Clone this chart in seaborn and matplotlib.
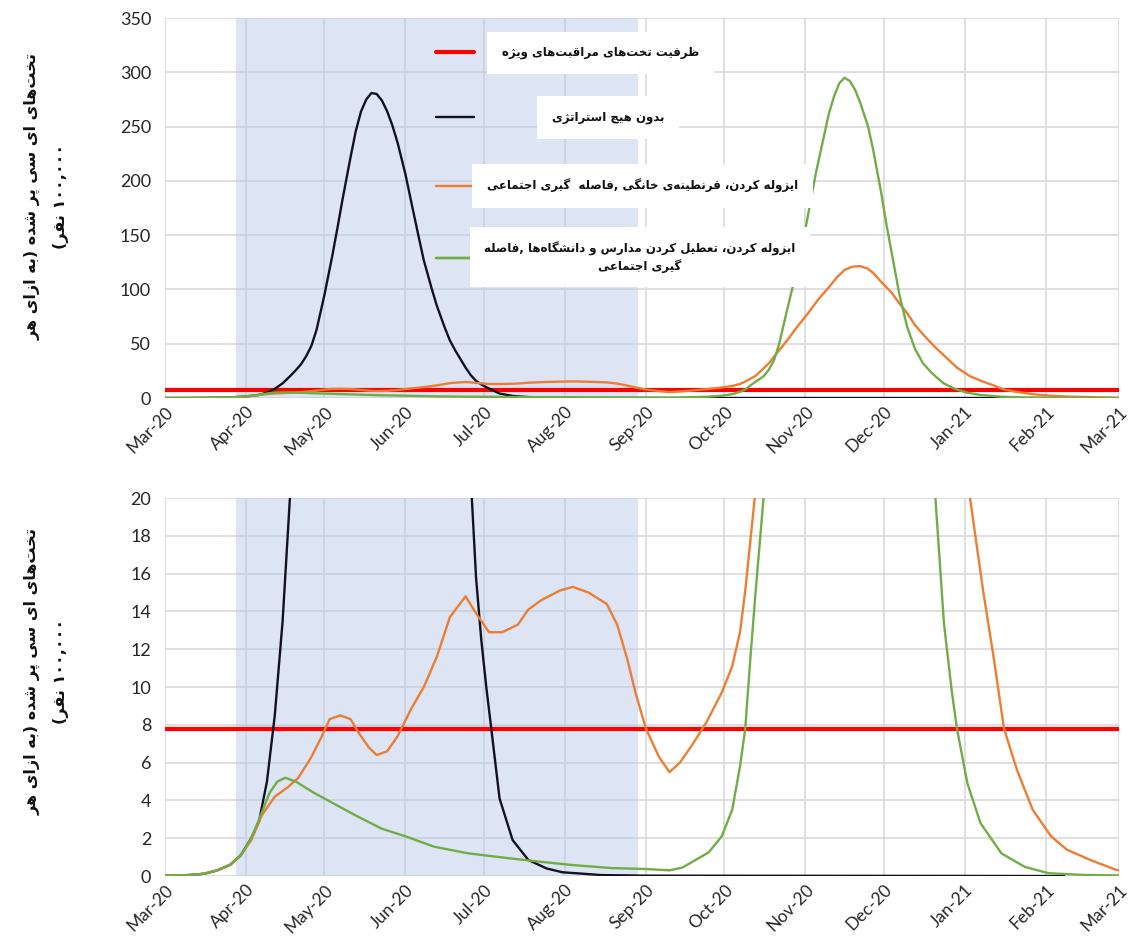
import re
import numpy as np
import pandas as pd
import matplotlib
matplotlib.use("Agg")
import matplotlib.pyplot as plt
import matplotlib.dates as mdates
from matplotlib.lines import Line2D
import seaborn as sns

# ---------------- data ----------------
ICU_CAPACITY = 7.8
SHADE_START, SHADE_END = "2020-03-28", "2020-08-29"

black_dates = ["2020-03-01", "2020-03-10", "2020-03-16", "2020-03-21", "2020-03-26", "2020-03-30",
               "2020-04-03", "2020-04-06", "2020-04-09", "2020-04-12", "2020-04-15", "2020-04-18",
               "2020-04-20", "2020-04-22", "2020-04-24", "2020-04-26", "2020-04-28", "2020-05-01",
               "2020-05-04", "2020-05-06", "2020-05-08", "2020-05-11", "2020-05-13", "2020-05-15",
               "2020-05-17", "2020-05-19", "2020-05-21", "2020-05-23", "2020-05-25", "2020-05-27",
               "2020-05-29", "2020-06-01", "2020-06-03", "2020-06-06", "2020-06-08", "2020-06-11",
               "2020-06-13", "2020-06-16", "2020-06-18", "2020-06-20", "2020-06-22", "2020-06-24",
               "2020-06-26", "2020-06-28", "2020-06-30", "2020-07-02", "2020-07-04", "2020-07-07",
               "2020-07-12", "2020-07-18", "2020-07-25", "2020-07-31", "2020-08-15", "2020-09-01",
               "2021-02-08"]
black_vals = [0.02, 0.05, 0.12, 0.3, 0.6, 1.1,
              2.0, 2.9, 5.0, 8.5, 13.5, 20.5,
              25.5, 31, 38.5, 48, 63, 95,
              131, 157, 184, 222, 246, 264,
              275, 281, 280, 274, 264, 251,
              235, 206, 183, 149, 127, 101,
              85, 65, 53, 44, 36, 28,
              21, 15.8, 12.5, 9.9, 7.6, 4.1,
              1.9, 0.85, 0.4, 0.2, 0.05, 0.02,
              0.0]

orange_dates = ["2020-03-01", "2020-03-10", "2020-03-16", "2020-03-21", "2020-03-26", "2020-03-30",
                "2020-04-03", "2020-04-07", "2020-04-12", "2020-04-17", "2020-04-21", "2020-04-26",
                "2020-04-30", "2020-05-03", "2020-05-07", "2020-05-11", "2020-05-14", "2020-05-18",
                "2020-05-21", "2020-05-25", "2020-05-29", "2020-06-03", "2020-06-08", "2020-06-13",
                "2020-06-18", "2020-06-24", "2020-06-28", "2020-07-03", "2020-07-08", "2020-07-14",
                "2020-07-18", "2020-07-23", "2020-07-30", "2020-08-04", "2020-08-10", "2020-08-17",
                "2020-08-21", "2020-08-25", "2020-08-28", "2020-09-01", "2020-09-06", "2020-09-10",
                "2020-09-14", "2020-09-19", "2020-09-24", "2020-09-30", "2020-10-04", "2020-10-07",
                "2020-10-09", "2020-10-11", "2020-10-13", "2020-10-15", "2020-10-18", "2020-10-21",
                "2020-10-25", "2020-10-29", "2020-11-02", "2020-11-06", "2020-11-10", "2020-11-13",
                "2020-11-16", "2020-11-19", "2020-11-22", "2020-11-25", "2020-11-27", "2020-11-30",
                "2020-12-04", "2020-12-07", "2020-12-10", "2020-12-13", "2020-12-17", "2020-12-21",
                "2020-12-25", "2020-12-29", "2021-01-03", "2021-01-08", "2021-01-12", "2021-01-16",
                "2021-01-21", "2021-01-27", "2021-02-03", "2021-02-09", "2021-02-18", "2021-02-28",
                "2021-03-01"]
orange_vals = [0.02, 0.05, 0.12, 0.3, 0.6, 1.1,
               1.9, 3.2, 4.2, 4.7, 5.2, 6.3,
               7.4, 8.3, 8.5, 8.3, 7.6, 6.8,
               6.4, 6.6, 7.4, 8.8, 10.0, 11.6,
               13.7, 14.8, 13.9, 12.9, 12.9, 13.3,
               14.1, 14.6, 15.1, 15.3, 15.0, 14.4,
               13.3, 11.4, 9.7, 7.8, 6.3, 5.5,
               6.0, 7.0, 8.1, 9.7, 11.1, 12.9,
               15.1, 17.8, 20.5, 25, 32, 41,
               53, 66, 78, 91, 102, 111,
               118, 121, 121.5, 119, 115, 107,
               97, 87, 78, 67, 56, 46,
               37, 28, 20, 15.1, 11.6, 7.8,
               5.6, 3.5, 2.1, 1.4, 0.85, 0.32,
               0.3]

green_dates = ["2020-03-01", "2020-03-10", "2020-03-16", "2020-03-21", "2020-03-26", "2020-03-30",
               "2020-04-03", "2020-04-06", "2020-04-10", "2020-04-13", "2020-04-16", "2020-04-20",
               "2020-04-27", "2020-05-05", "2020-05-13", "2020-05-23", "2020-06-01", "2020-06-12",
               "2020-06-25", "2020-07-10", "2020-07-23", "2020-08-04", "2020-08-19", "2020-09-01",
               "2020-09-10", "2020-09-15", "2020-09-20", "2020-09-25", "2020-09-30", "2020-10-04",
               "2020-10-07", "2020-10-09", "2020-10-11", "2020-10-13", "2020-10-16", "2020-10-18",
               "2020-10-20", "2020-10-22", "2020-10-25", "2020-10-28", "2020-10-31", "2020-11-03",
               "2020-11-05", "2020-11-08", "2020-11-10", "2020-11-12", "2020-11-14", "2020-11-16",
               "2020-11-18", "2020-11-20", "2020-11-22", "2020-11-25", "2020-11-27", "2020-11-30",
               "2020-12-02", "2020-12-05", "2020-12-07", "2020-12-10", "2020-12-13", "2020-12-16",
               "2020-12-19", "2020-12-21", "2020-12-24", "2020-12-27", "2020-12-29", "2021-01-02",
               "2021-01-07", "2021-01-15", "2021-01-24", "2021-02-02", "2021-02-15", "2021-03-01"]
green_vals = [0.02, 0.05, 0.12, 0.3, 0.6, 1.1,
              2.0, 3.0, 4.4, 5.0, 5.2, 5.0,
              4.4, 3.8, 3.2, 2.5, 2.1, 1.55,
              1.2, 0.95, 0.75, 0.58, 0.42, 0.37,
              0.3, 0.45, 0.85, 1.25, 2.1, 3.5,
              5.8, 7.8, 11.6, 15.1, 20, 26,
              35, 50, 81, 111, 143, 181,
              207, 240, 262, 278, 290, 295,
              292, 284, 272, 250, 228, 189,
              160, 121, 95, 65, 45, 32,
              24, 19.5, 13.4, 9.8, 7.8, 4.9,
              2.8, 1.2, 0.48, 0.15, 0.06, 0.03]

LABELS = ["ظرفیت تخت‌های مراقبت‌های ویژه",
          "بدون هیچ استراتژی",
          "ایزوله کردن، قرنطینه‌ی خانگی ,فاصله  گیری اجتماعی",
          "ایزوله کردن، تعطیل کردن مدارس و دانشگاه‌ها ,فاصله\nگیری اجتماعی"]
YLABEL = "تخت‌های ای سی پر شده (به ازای هر\n۱۰۰,۰۰۰ نفر)"

# ------------- Persian shaping (presentation forms + visual order) -------------
FORMS = {
    'ا': ('\uFE8D', '\uFE8E', None, None), 'آ': ('\uFE81', '\uFE82', None, None),
    'ب': ('\uFE8F', '\uFE90', '\uFE91', '\uFE92'), 'پ': ('\uFB56', '\uFB57', '\uFB58', '\uFB59'),
    'ت': ('\uFE95', '\uFE96', '\uFE97', '\uFE98'), 'ث': ('\uFE99', '\uFE9A', '\uFE9B', '\uFE9C'),
    'ج': ('\uFE9D', '\uFE9E', '\uFE9F', '\uFEA0'), 'چ': ('\uFB7A', '\uFB7B', '\uFB7C', '\uFB7D'),
    'ح': ('\uFEA1', '\uFEA2', '\uFEA3', '\uFEA4'), 'خ': ('\uFEA5', '\uFEA6', '\uFEA7', '\uFEA8'),
    'د': ('\uFEA9', '\uFEAA', None, None), 'ذ': ('\uFEAB', '\uFEAC', None, None),
    'ر': ('\uFEAD', '\uFEAE', None, None), 'ز': ('\uFEAF', '\uFEB0', None, None),
    'ژ': ('\uFB8A', '\uFB8B', None, None),
    'س': ('\uFEB1', '\uFEB2', '\uFEB3', '\uFEB4'), 'ش': ('\uFEB5', '\uFEB6', '\uFEB7', '\uFEB8'),
    'ص': ('\uFEB9', '\uFEBA', '\uFEBB', '\uFEBC'), 'ض': ('\uFEBD', '\uFEBE', '\uFEBF', '\uFEC0'),
    'ط': ('\uFEC1', '\uFEC2', '\uFEC3', '\uFEC4'), 'ظ': ('\uFEC5', '\uFEC6', '\uFEC7', '\uFEC8'),
    'ع': ('\uFEC9', '\uFECA', '\uFECB', '\uFECC'), 'غ': ('\uFECD', '\uFECE', '\uFECF', '\uFED0'),
    'ف': ('\uFED1', '\uFED2', '\uFED3', '\uFED4'), 'ق': ('\uFED5', '\uFED6', '\uFED7', '\uFED8'),
    'ک': ('\uFB8E', '\uFB8F', '\uFB90', '\uFB91'), 'گ': ('\uFB92', '\uFB93', '\uFB94', '\uFB95'),
    'ل': ('\uFEDD', '\uFEDE', '\uFEDF', '\uFEE0'), 'م': ('\uFEE1', '\uFEE2', '\uFEE3', '\uFEE4'),
    'ن': ('\uFEE5', '\uFEE6', '\uFEE7', '\uFEE8'), 'ه': ('\uFEE9', '\uFEEA', '\uFEEB', '\uFEEC'),
    'و': ('\uFEED', '\uFEEE', None, None), 'ی': ('\uFBFC', '\uFBFD', '\uFBFE', '\uFBFF'),
}


def _joins_next(c):
    return c in FORMS and FORMS[c][2] is not None


def shape(line):
    out = []
    n = len(line)
    i = 0
    while i < n:
        c = line[i]
        if c not in FORMS:
            if c != '\u200c':
                out.append(c)
            i += 1
            continue
        prev = line[i - 1] if i > 0 else None
        nxt = line[i + 1] if i < n - 1 else None
        jp = prev is not None and _joins_next(prev)
        if c == 'ل' and nxt == 'ا':
            out.append('\uFEFC' if jp else '\uFEFB')
            i += 2
            continue
        jn = nxt is not None and nxt in FORMS and _joins_next(c)
        iso, fin, ini, med = FORMS[c]
        out.append(med if (jp and jn) else fin if jp else ini if jn else iso)
        i += 1
    return ''.join(out)


def rtl(text):
    lines = []
    for line in text.split('\n'):
        s = shape(line)[::-1]
        s = re.sub(r'[0-9\u06F0-\u06F9][0-9\u06F0-\u06F9,.]*', lambda m: m.group(0)[::-1], s)
        s = s.translate(str.maketrans('()', ')('))
        lines.append(s)
    return '\n'.join(lines)


# ---------------- style ----------------
sns.set_theme(style="white")
plt.rcParams['font.family'] = ['Lato', 'DejaVu Sans']
AR_FONT = ['DejaVu Sans']

RED, BLACK, ORANGE, GREEN = "#ff0000", "#12121f", "#ed7d31", "#70ad47"
SHADE = "#b4c7e7"
GRID = "#d9d9d9"

series = [(black_dates, black_vals, BLACK), (orange_dates, orange_vals, ORANGE),
          (green_dates, green_vals, GREEN)]

fig = plt.figure(figsize=(11.31, 9.49), dpi=100)
ax_top = fig.add_axes([0.1459, 0.5806, 0.8435, 0.4004])
ax_bot = fig.add_axes([0.1459, 0.0769, 0.8435, 0.3983])

for ax, ymax, ystep, ylab_y in [(ax_top, 350, 50, 0.53), (ax_bot, 20, 2, 0.54)]:
    ax.axvspan(pd.Timestamp(SHADE_START), pd.Timestamp(SHADE_END), color=SHADE,
               alpha=0.45, lw=0, zorder=1.5)
    ax.axhline(ICU_CAPACITY, color=RED, lw=3.0, zorder=3)
    for k, (d, v, col) in enumerate(series):
        df = pd.DataFrame({"date": pd.to_datetime(d), "value": v})
        sns.lineplot(data=df, x="date", y="value", ax=ax, color=col, lw=1.7,
                     zorder=4 + k, estimator=None)
    ax.set_xlim(pd.Timestamp("2020-03-01"), pd.Timestamp("2021-03-01"))
    ax.set_ylim(0, ymax)
    ax.set_yticks(np.arange(0, ymax + 0.1, ystep))
    ax.xaxis.set_major_locator(mdates.MonthLocator())
    ax.xaxis.set_major_formatter(mdates.DateFormatter('%b-%y'))
    ax.grid(True, color=GRID, lw=1.2, zorder=1)
    ax.set_axisbelow(True)
    for sp in ax.spines.values():
        sp.set_visible(False)
    ax.tick_params(axis='y', length=0, pad=10, labelsize=13, labelcolor="#262626")
    ax.tick_params(axis='x', length=0, pad=4, labelsize=12.5, labelcolor="#262626")
    for lab in ax.get_xticklabels():
        lab.set_rotation(45)
        lab.set_ha('right')
        lab.set_rotation_mode('anchor')
    ax.set_xlabel("")
    ax.set_ylabel(rtl(YLABEL), family=AR_FONT, fontweight='bold', fontsize=11.5,
                  multialignment='center', color="#111111", linespacing=2.0)
    ax.yaxis.set_label_coords(-0.101, ylab_y)

# ---------------- legend (inside top panel) ----------------
handles = [Line2D([], [], color=RED, lw=3.0), Line2D([], [], color=BLACK, lw=1.7),
           Line2D([], [], color=ORANGE, lw=1.7), Line2D([], [], color=GREEN, lw=1.7)]
leg_y = [0.909, 0.738, 0.558, 0.37]
leg_pad = [2.4, 6.6, 1.1, 0.9]
for h, lab, y, pad in zip(handles, LABELS, leg_y, leg_pad):
    leg = ax_top.legend([h], [rtl(lab)], loc='center left', bbox_to_anchor=(0.284, y),
                        frameon=False, handlelength=3.2, handletextpad=pad,
                        prop={'family': AR_FONT, 'weight': 'bold', 'size': 8.5},
                        borderaxespad=0, borderpad=0)
    for t in leg.get_texts():
        t.set_multialignment('center')
        t.set_color("#111111")
        t.set_bbox(dict(boxstyle='square,pad=1.25', fc='white', ec='none'))
    leg.set_zorder(10)
    ax_top.add_artist(leg)

fig.savefig("out.png", dpi=100)
